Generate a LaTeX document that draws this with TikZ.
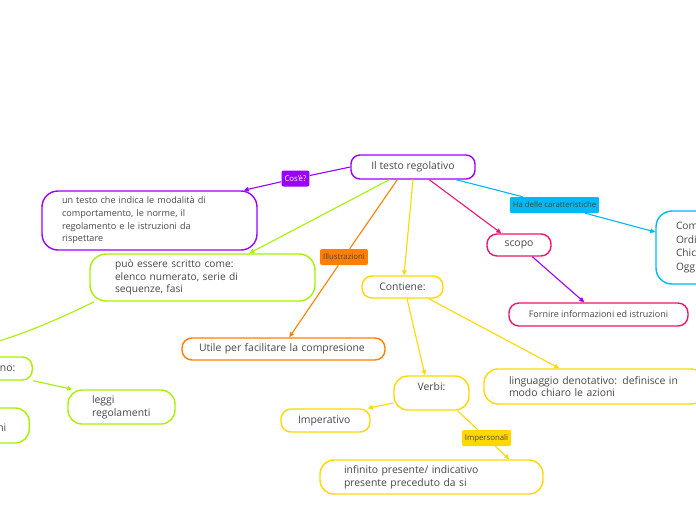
\documentclass[tikz,border=0pt]{standalone}
\usepackage{fontspec}
\setmainfont{Open Sans}
\usepackage{tikz}
\usetikzlibrary{arrows.meta,calc}

\definecolor{mPurple}{HTML}{9A00FF}
\definecolor{mLime}{HTML}{A8F000}
\definecolor{mOrange}{HTML}{FF7F00}
\definecolor{mYellow}{HTML}{FFD800}
\definecolor{mPink}{HTML}{F0146E}
\definecolor{mBlue}{HTML}{00B8F2}
\definecolor{mText}{HTML}{474747}

\begin{document}
\begin{tikzpicture}[
    x=1pt, y=-1pt,
    box/.style={draw, line width=1.4pt, rounded corners=10pt, fill=white, text=mText,
      font=\fontsize{10.4}{12.7}\selectfont, inner ysep=0pt},
    tag/.style={rounded corners=2pt, inner xsep=3pt, inner ysep=0pt, minimum height=16pt,
      font=\fontsize{7.8}{9}\selectfont, text=mText},
    link/.style={line width=1.1pt, -{Triangle[length=5pt,width=4.5pt]}},
    plain/.style={line width=1.1pt}
]
\useasboundingbox (0,0) rectangle (696,520);
\clip (0,0) rectangle (696,520);
\fill[white] (0,0) rectangle (696,520);

% central topic
\node[box, draw=mPurple, rounded corners=9pt, minimum width=124pt, minimum height=24pt] (root) at (413,167) {Il testo regolativo};

% what it is
\node[box, draw=mPurple, rounded corners=16pt, text width=175pt, inner xsep=20pt, minimum height=59pt, align=left,
  font=\fontsize{9.1}{12.6}\selectfont] (def) at (149.5,220.5)
  {un testo che indica le modalità di\\comportamento, le norme, il\\regolamento e le istruzioni da\\rispettare};
\node[tag, fill=mPurple, text=white] (cose) at (295.5,178.5) {Cos'è?};

% forms
\node[box, draw=mLime, rounded corners=16pt, text width=175pt, inner xsep=25pt, minimum height=47pt, align=left,
  font=\fontsize{10.2}{12.7}\selectfont] (forme) at (202.5,277.5)
  {può essere scritto come:\\elenco numerato, serie di\\sequenze, fasi};
\node[box, draw=mLime, text width=129pt, inner xsep=17pt, minimum height=23pt, align=right, anchor=east] (tipi) at (33,368.5) {ono:};
\node[box, draw=mLime, rounded corners=14pt, text width=60pt, inner xsep=23pt, minimum height=35pt, align=right, anchor=east] (altri) at (30,425.5) {\mbox{}\\ni};
\node[box, draw=mLime, rounded corners=14pt, text width=59pt, inner xsep=24pt, minimum height=34pt, align=left] (leggi) at (121.5,407) {leggi\\regolamenti};

% illustrations
\node[tag, fill=mOrange] (illu) at (344,257) {Illustrazioni};
\node[box, draw=mOrange, text width=169pt, inner xsep=17pt, minimum height=22pt, align=left] (utile) at (283.5,349) {Utile per facilitare la compresione};

% contents
\node[box, draw=mYellow, minimum width=81pt, minimum height=22pt] (contiene) at (402.5,287) {Contiene:};
\node[box, draw=mYellow, rounded corners=14pt, minimum width=75pt, minimum height=34pt, align=center] (verbi) at (431.5,393) {Verbi:\\\mbox{}};
\node[box, draw=mYellow, rounded corners=14pt, text width=171pt, inner xsep=25pt, minimum height=35pt, align=left] (lingua) at (594.5,386.5)
  {linguaggio denotativo: definisce in\\modo chiaro le azioni};
\node[box, draw=mYellow, text width=55pt, inner xsep=17pt, minimum height=23pt, align=left] (imper) at (325.5,420.5) {Imperativo};
\node[tag, fill=mYellow] (impers) at (486.5,438) {Impersonali};
\node[box, draw=mYellow, rounded corners=14pt, text width=175pt, inner xsep=24pt, minimum height=34pt, align=left] (infinito) at (431.5,477)
  {infinito presente/ indicativo\\presente preceduto da si};

% purpose
\node[box, draw=mPink, minimum width=64pt, minimum height=22pt] (scopo) at (519,245) {scopo};
\node[box, draw=mPink, minimum width=179pt, minimum height=23pt, font=\fontsize{9}{10}\selectfont] (fornire) at (598.5,314.5) {Fornire informazioni ed istruzioni};

% features
\node[tag, fill=mBlue] (carat) at (554.5,205) {Ha delle caratteristiche};
\node[box, draw=mBlue, rounded corners=16pt, text width=60pt, inner xsep=20pt, minimum height=73pt, align=left,
  font=\fontsize{10.2}{13.5}\selectfont] (tratti) at (706,247.5) {Com\\Ordi\\Chic\\Ogg};

% connectors
\draw[plain, mPurple] (root.west) -- (cose);
\draw[link, mPurple] (cose) -- ([xshift=-14pt]def.north east);
\draw[link, mLime] ([xshift=39pt]root.south west) -- ([xshift=160pt]forme.north west);
\draw[link, mLime] ([xshift=5pt]forme.south west) to[bend left=6] ([xshift=75pt]tipi.north west);
\draw[link, mLime] (tipi.south east) -- ([xshift=5pt]leggi.north west);
\draw[plain, mOrange] ([xshift=47pt]root.south west) -- (illu);
\draw[link, mOrange] (illu) -- ([xshift=108pt]utile.north west);
\draw[link, mYellow] (root.south) -- ([xshift=1.5pt]contiene.north);
\draw[link, mYellow] ([xshift=4.5pt]contiene.south) -- ([xshift=-6.5pt]verbi.north);
\draw[link, mYellow] ([xshift=-15pt]contiene.south east) -- ([xshift=76pt]lingua.north west);
\draw[link, mYellow] ([yshift=-10pt]verbi.west) -- ([xshift=-3pt]imper.north east);
\draw[plain, mYellow] ([xshift=26pt]verbi.south) -- (impers);
\draw[link, mYellow] (impers) -- ([xshift=190pt]infinito.north west);
\draw[link, mPink] ([xshift=79pt]root.south west) -- ([xshift=15pt]scopo.north west);
\draw[link, mPurple] ([xshift=46pt]scopo.south west) -- ([xshift=76pt]fornire.north west);
\draw[plain, mBlue] ([xshift=106pt]root.south west) -- (carat);
\draw[link, mBlue] (carat) -- ([yshift=15.5pt]tratti.west);
\end{tikzpicture}
\end{document}
